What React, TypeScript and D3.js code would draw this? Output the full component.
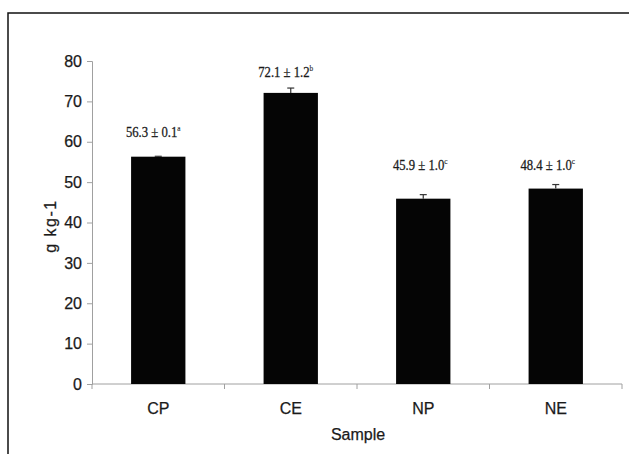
import { useEffect, useRef } from "react";
import * as d3 from "d3";

const WIDTH = 629;
const HEIGHT = 454;

const samples = ["CP", "CE", "NP", "NE"];
const values = [56.3, 72.1, 45.9, 48.4];
const errors = [0.1, 1.2, 1.0, 1.0];
const letters = ["a", "b", "c", "c"];
const yTicks = [0, 10, 20, 30, 40, 50, 60, 70, 80];

const margin = { left: 92, right: 7, top: 61, bottom: 70 };
const SANS = "Liberation Sans, Arial, sans-serif";
const SERIF = "Liberation Serif, Times New Roman, serif";

export default function App() {
  const svgRef = useRef<SVGSVGElement>(null);

  useEffect(() => {
    const svg = d3.select(svgRef.current);
    svg.selectAll("*").remove();

    const x = d3
      .scaleBand()
      .domain(samples)
      .range([margin.left, WIDTH - margin.right])
      .paddingInner(0.59)
      .paddingOuter(0.295);
    const y = d3
      .scaleLinear()
      .domain([0, 80])
      .range([HEIGHT - margin.bottom, margin.top]);

    // outer frame (runs off the right and bottom edge)
    svg
      .append("rect")
      .attr("x", 8)
      .attr("y", 13)
      .attr("width", 660)
      .attr("height", 480)
      .attr("fill", "none")
      .attr("stroke", "#111")
      .attr("stroke-width", 1.5);

    // y axis
    const yAxis = svg
      .append("g")
      .attr("transform", `translate(${margin.left},0)`)
      .call(d3.axisLeft(y).tickValues(yTicks).tickSize(5).tickPadding(5));
    yAxis.select(".domain").attr("stroke", "#a0a0a0");
    yAxis.selectAll(".tick line").attr("stroke", "#a0a0a0");
    yAxis
      .selectAll(".tick text")
      .attr("font-family", SANS)
      .attr("font-size", 16)
      .attr("fill", "#1a1a1a")
      .attr("stroke", "#1a1a1a")
      .attr("stroke-width", 0.25);

    // x axis
    const x0 = y(0);
    const bandStep = x.step();
    const xAxis = svg.append("g").attr("transform", `translate(0,${x0})`);
    xAxis
      .append("line")
      .attr("x1", margin.left)
      .attr("x2", WIDTH - margin.right)
      .attr("stroke", "#a0a0a0");
    const boundaries = d3.range(samples.length + 1).map((i) => margin.left + i * bandStep);
    xAxis
      .selectAll("line.tk")
      .data(boundaries)
      .join("line")
      .attr("class", "tk")
      .attr("x1", (d) => d)
      .attr("x2", (d) => d)
      .attr("y1", 0)
      .attr("y2", 5)
      .attr("stroke", "#a0a0a0");
    xAxis
      .selectAll("text")
      .data(samples)
      .join("text")
      .attr("x", (d) => x(d)! + x.bandwidth() / 2)
      .attr("y", 30)
      .attr("text-anchor", "middle")
      .attr("font-family", SANS)
      .attr("font-size", 16)
      .attr("fill", "#1a1a1a")
      .attr("stroke", "#1a1a1a")
      .attr("stroke-width", 0.25)
      .text((d) => d);

    // bars
    svg
      .append("g")
      .selectAll("rect")
      .data(samples)
      .join("rect")
      .attr("x", (d) => x(d)!)
      .attr("y", (_, i) => y(values[i]))
      .attr("width", x.bandwidth())
      .attr("height", (_, i) => x0 - y(values[i]))
      .attr("fill", "#050505");

    // error bars (upper half only)
    const eb = svg.append("g").attr("stroke", "#333").attr("stroke-width", 1.2);
    samples.forEach((s, i) => {
      const cx = x(s)! + x.bandwidth() / 2;
      eb.append("line")
        .attr("x1", cx)
        .attr("x2", cx)
        .attr("y1", y(values[i]))
        .attr("y2", y(values[i] + errors[i]));
      eb.append("line")
        .attr("x1", cx - 3.5)
        .attr("x2", cx + 3.5)
        .attr("y1", y(values[i] + errors[i]))
        .attr("y2", y(values[i] + errors[i]));
    });

    // value labels (condensed serif, as in the scanned figure)
    const labelBase = [137, 77, 170, 170];
    const labelShift = [-5, -5, -3, -8];
    const lbl = svg
      .append("g")
      .selectAll("text")
      .data(samples)
      .join("text")
      .attr(
        "transform",
        (d, i) =>
          `translate(${x(d)! + x.bandwidth() / 2 + labelShift[i]},${labelBase[i]}) scale(0.82,1)`
      )
      .attr("text-anchor", "middle")
      .attr("font-family", SERIF)
      .attr("font-size", 15.5)
      .attr("fill", "#1a1a1a")
      .attr("stroke", "#1a1a1a")
      .attr("stroke-width", 0.3);
    lbl.append("tspan").text((_, i) => `${values[i].toFixed(1)} ± ${errors[i].toFixed(1)}`);
    lbl
      .append("tspan")
      .attr("dy", -6)
      .attr("font-size", 9)
      .attr("stroke-width", 0.1)
      .text((_, i) => letters[i]);

    // axis titles
    svg
      .append("text")
      .attr("transform", `translate(56,226) rotate(-90)`)
      .attr("text-anchor", "middle")
      .attr("font-family", SANS)
      .attr("font-size", 16)
      .attr("letter-spacing", 1.5)
      .attr("fill", "#1a1a1a")
      .attr("stroke", "#1a1a1a")
      .attr("stroke-width", 0.25)
      .text("g kg-1");
    svg
      .append("text")
      .attr("x", 358)
      .attr("y", 440)
      .attr("text-anchor", "middle")
      .attr("font-family", SANS)
      .attr("font-size", 16)
      .attr("fill", "#1a1a1a")
      .attr("stroke", "#1a1a1a")
      .attr("stroke-width", 0.25)
      .text("Sample");
  }, []);

  return (
    <svg
      ref={svgRef}
      width={WIDTH}
      height={HEIGHT}
      style={{ position: "absolute", left: 0, top: 0, background: "#fff" }}
    />
  );
}
